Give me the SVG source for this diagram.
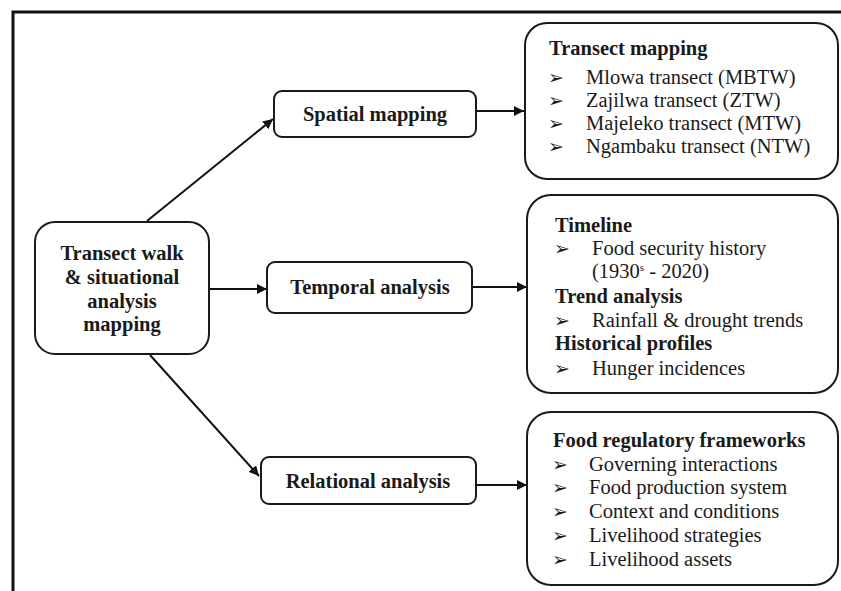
<svg xmlns="http://www.w3.org/2000/svg" width="841" height="591" viewBox="0 0 841 591">
<defs>
<marker id="ah" viewBox="0 0 10 10" refX="10" refY="5" markerWidth="10" markerHeight="10" markerUnits="userSpaceOnUse" orient="auto">
<path d="M0,0 L10,5 L0,10 Z" fill="#111"/>
</marker>
<style>
.box{fill:#fff;stroke:#1a1a1a;stroke-width:2}
.lbl{font-family:"Liberation Serif","Times New Roman",serif;font-size:20.5px;font-weight:bold;fill:#1a1a1a;text-anchor:middle}
.hd{font-family:"Liberation Serif","Times New Roman",serif;font-size:20.5px;font-weight:bold;fill:#1a1a1a}
.it{font-family:"Liberation Serif","Times New Roman",serif;font-size:20.5px;fill:#1a1a1a}
.bu{font-family:"DejaVu Sans",sans-serif;font-size:19px;font-weight:bold;fill:#1a1a1a}
.con{stroke:#111;stroke-width:2;fill:none;marker-end:url(#ah)}
</style>
</defs>
<rect width="841" height="591" fill="#fff"/>
<path d="M13,591 V12 H841" fill="none" stroke="#111" stroke-width="3"/>

<g id="connectors">
<line class="con" x1="147" y1="221" x2="273" y2="119"/>
<line class="con" x1="150" y1="355" x2="259" y2="476"/>
<line class="con" x1="209" y1="289" x2="267" y2="289"/>
<line class="con" x1="476" y1="111" x2="524" y2="111"/>
<line class="con" x1="472" y1="287" x2="527" y2="287"/>
<line class="con" x1="476" y1="485" x2="527" y2="485"/>
</g>

<g id="root">
<rect class="box" x="35" y="222" width="174" height="132" rx="20"/>
<text class="lbl" x="122" y="260">Transect walk</text>
<text class="lbl" x="122" y="284">&amp; situational</text>
<text class="lbl" x="122" y="308">analysis</text>
<text class="lbl" x="122" y="331">mapping</text>
</g>

<g id="spatial">
<rect class="box" x="274" y="91" width="202" height="46" rx="8"/>
<text class="lbl" x="375" y="121">Spatial mapping</text>
</g>

<g id="temporal">
<rect class="box" x="267" y="262" width="205" height="51" rx="8"/>
<text class="lbl" x="370" y="294">Temporal analysis</text>
</g>

<g id="relational">
<rect class="box" x="261" y="457" width="215" height="47" rx="8"/>
<text class="lbl" x="368" y="488">Relational analysis</text>
</g>

<g id="transect-mapping">
<rect class="box" x="525" y="23" width="313" height="156" rx="22"/>
<text class="hd" x="549" y="55">Transect mapping</text>
<text class="bu" x="548" y="84">➢</text><text class="it" x="586" y="84">Mlowa transect (MBTW)</text>
<text class="bu" x="548" y="107">➢</text><text class="it" x="586" y="107">Zajilwa transect (ZTW)</text>
<text class="bu" x="548" y="130">➢</text><text class="it" x="586" y="130">Majeleko transect (MTW)</text>
<text class="bu" x="548" y="153">➢</text><text class="it" x="586" y="153">Ngambaku transect (NTW)</text>
</g>

<g id="temporal-results">
<rect class="box" x="527" y="195" width="311" height="198" rx="24"/>
<text class="hd" x="555" y="232">Timeline</text>
<text class="bu" x="554" y="255">➢</text><text class="it" x="592" y="255">Food security history</text>
<text class="it" x="592" y="278">(1930<tspan font-size="11" dy="-7">s</tspan><tspan dy="7"> - 2020)</tspan></text>
<text class="hd" x="555" y="303">Trend analysis</text>
<text class="bu" x="554" y="327">➢</text><text class="it" x="592" y="327">Rainfall &amp; drought trends</text>
<text class="hd" x="555" y="350">Historical profiles</text>
<text class="bu" x="554" y="375">➢</text><text class="it" x="592" y="375">Hunger incidences</text>
</g>

<g id="relational-results">
<rect class="box" x="527" y="412" width="311" height="173" rx="24"/>
<text class="hd" x="553" y="447">Food regulatory frameworks</text>
<text class="bu" x="552" y="471">➢</text><text class="it" x="589" y="471">Governing interactions</text>
<text class="bu" x="552" y="494">➢</text><text class="it" x="589" y="494">Food production system</text>
<text class="bu" x="552" y="518">➢</text><text class="it" x="589" y="518">Context and conditions</text>
<text class="bu" x="552" y="542">➢</text><text class="it" x="589" y="542">Livelihood strategies</text>
<text class="bu" x="552" y="566">➢</text><text class="it" x="589" y="566">Livelihood assets</text>
</g>
</svg>
